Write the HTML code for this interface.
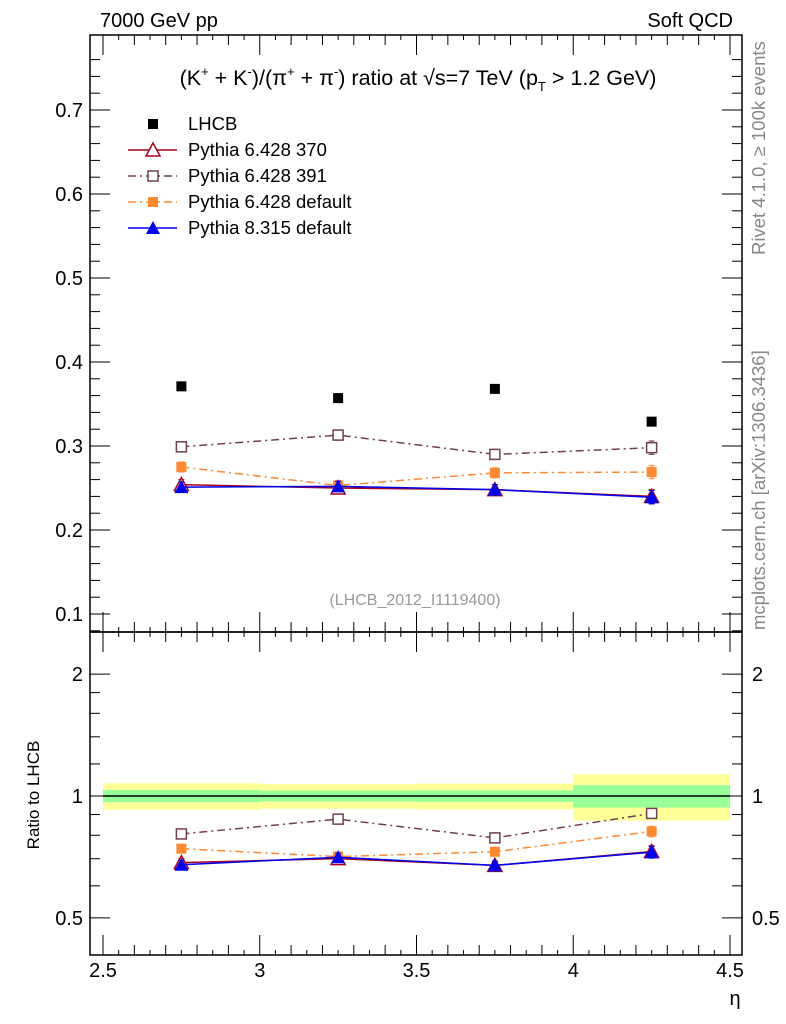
<!DOCTYPE html>
<html><head><meta charset="utf-8"><style>
body{margin:0;background:#fff;}
svg{display:block;font-family:"Liberation Sans",sans-serif;}
</style></head><body>
<svg id="c" width="786" height="1024" viewBox="0 0 786 1024" xmlns="http://www.w3.org/2000/svg">
<rect width="786" height="1024" fill="#fff"/>
<text x="100" y="27" font-size="20">7000 GeV pp</text>
<text x="733" y="27" font-size="20" text-anchor="end">Soft QCD</text>
<text x="418" y="85" font-size="21.5" text-anchor="middle">(K<tspan font-size="13" dy="-9">+</tspan><tspan dy="9"> + K</tspan><tspan font-size="13" dy="-9">-</tspan><tspan dy="9">)/(π</tspan><tspan font-size="13" dy="-9">+</tspan><tspan dy="9"> + π</tspan><tspan font-size="13" dy="-9">-</tspan><tspan dy="9">) ratio at √s=7 TeV (p</tspan><tspan font-size="13" dy="6">T</tspan><tspan dy="-6"> &gt; 1.2 GeV)</tspan></text>
<text transform="translate(765,630) rotate(-90)" font-size="18.5" fill="#888">mcplots.cern.ch [arXiv:1306.3436]</text>
<text transform="translate(765,255) rotate(-90)" font-size="18.5" fill="#888">Rivet 4.1.0, ≥ 100k events</text>
<text x="415" y="605" font-size="16" fill="#999" text-anchor="middle">(LHCB_2012_I1119400)</text>
<text transform="translate(39,795) rotate(-90)" font-size="17" text-anchor="middle">Ratio to LHCB</text>
<text x="735" y="1005" font-size="20" text-anchor="middle">η</text>
<g id="bands"></g>
<g id="axes"></g>
<g id="marks"></g>
<g id="legend"></g>
</svg>
<script>
const etaBins=[2.75,3.25,3.75,4.25];
const binEdges=[2.5,3.0,3.5,4.0,4.5];
const lhcb=[0.371,0.357,0.368,0.329];
const lhcbStat=[0.013,0.011,0.012,0.021];
const lhcbTot=[0.028,0.025,0.027,0.043];
const p370=[0.254,0.250,0.248,0.240];
const p391=[0.299,0.313,0.290,0.298];
const p6def=[0.275,0.253,0.268,0.269];
const p8def=[0.251,0.252,0.248,0.239];
const mcErr=[0.006,0.006,0.006,0.008];
const mainTicks=[0.1,0.2,0.3,0.4,0.5,0.6,0.7];
const ratioTicks=[0.5,1,2];
const xTicks=[2.5,3,3.5,4,4.5];
const xTickLabels=["2.5","3","3.5","4","4.5"];

const NS="http://www.w3.org/2000/svg";
const L=90,R=742,T=35,MB=632,RB=955;
const X=v=>103+(v-2.5)*313.5;
const Y=v=>110+(0.7-v)*840;
const YR=r=>796-405*Math.log10(r);
function mk(g,tag,at){const e=document.createElementNS(NS,tag);for(const k in at)e.setAttribute(k,at[k]);document.getElementById(g).appendChild(e);return e;}

for(let i=0;i<4;i++){
  const x0=X(binEdges[i]),x1=X(binEdges[i+1]);
  let e=mk('bands','rect',{x:x0,y:YR(1+lhcbTot[i]/lhcb[i]),width:x1-x0,height:YR(1-lhcbTot[i]/lhcb[i])-YR(1+lhcbTot[i]/lhcb[i]),fill:'#ffff99'});
  
  
  e=mk('bands','rect',{x:x0,y:YR(1+lhcbStat[i]/lhcb[i]),width:x1-x0,height:YR(1-lhcbStat[i]/lhcb[i])-YR(1+lhcbStat[i]/lhcb[i]),fill:'#99ff99'});
  
  
}
let e=mk('bands','line',{x1:X(2.5),x2:X(4.5),y1:YR(1),y2:YR(1),stroke:'#000','stroke-width':1.5});



e=mk('axes','rect',{x:L,y:T,width:R-L,height:MB-T,fill:'none',stroke:'#000','stroke-width':1.5});


e=mk('axes','rect',{x:L,y:MB,width:R-L,height:RB-MB,fill:'none',stroke:'#000','stroke-width':1.5});


for(let v=0.08;v<=0.78;v+=0.02){
  const y=Y(v);if(y<T||y>MB)continue;
  const maj=Math.abs(v*10-Math.round(v*10))<1e-6;
  const len=maj?20:10;
  mk('axes','line',{x1:L,x2:L+len,y1:y,y2:y,stroke:'#000'});
  mk('axes','line',{x1:R,x2:R-len,y1:y,y2:y,stroke:'#000'});
}
mainTicks.forEach(v=>{const t=mk('axes','text',{x:83,y:Y(v)+7,'font-size':20,'text-anchor':'end'});t.textContent=v.toFixed(1);

});
[0.4,0.5,0.6,0.7,0.8,0.9,1,2].forEach(v=>{const y=YR(v);if(y<MB||y>RB)return;const maj=ratioTicks.includes(v);const len=maj?20:10;
mk('axes','line',{x1:L,x2:L+len,y1:y,y2:y,stroke:'#000'});mk('axes','line',{x1:R,x2:R-len,y1:y,y2:y,stroke:'#000'});});
[1.2,1.4,1.6,1.8].forEach(v=>{const y=YR(v);mk('axes','line',{x1:L,x2:L+10,y1:y,y2:y,stroke:'#000'});mk('axes','line',{x1:R,x2:R-10,y1:y,y2:y,stroke:'#000'});});
ratioTicks.forEach(v=>{[83,752].forEach((x,j)=>{const t=mk('axes','text',{x:x,y:YR(v)+7,'font-size':20,'text-anchor':j?'start':'end'});t.textContent=String(v);

});});
for(let v=2.45;v<=4.56;v+=0.05){const x=X(v);if(x<L||x>R)continue;const maj=Math.abs(v*2-Math.round(v*2))<1e-6;const maj2=Math.abs(v*10-Math.round(v*10))<1e-6;const len=maj?20:(maj2?10:5);
[[MB,-1],[T,1],[RB,-1],[MB,1]].forEach(([y0,d])=>mk('axes','line',{x1:x,x2:x,y1:y0,y2:y0+d*len,stroke:'#000'}));}
xTicks.forEach((v,i)=>{const t=mk('axes','text',{x:X(v),y:977,'font-size':20,'text-anchor':'middle'});t.textContent=xTickLabels[i];

});

function marker(g,type,x,y,col){
  if(type==='fsq')return mk(g,'rect',{x:x-5,y:y-5,width:10,height:10,fill:col});
  if(type==='osq')return mk(g,'rect',{x:x-5,y:y-5,width:10,height:10,fill:'#fff',stroke:col,'stroke-width':1.5});
  if(type==='otri')return mk(g,'polygon',{points:`${x},${y-7} ${x-7},${y+6} ${x+7},${y+6}`,fill:'#fff',stroke:col,'stroke-width':1.5});
  if(type==='ftri')return mk(g,'polygon',{points:`${x},${y-7} ${x-7},${y+6} ${x+7},${y+6}`,fill:col});
}
const series=[
 {name:'Pythia 6.428 370',vals:p370,col:'#a50021',dash:'',m:'otri',dn:'series-pythia6-370'},
 {name:'Pythia 6.428 391',vals:p391,col:'#704050',dash:'8,4,2,4',m:'osq',dn:'series-pythia6-391'},
 {name:'Pythia 6.428 default',vals:p6def,col:'#ff8833',dash:'8,4,2,4',m:'fsq',dn:'series-pythia6-default'},
 {name:'Pythia 8.315 default',vals:p8def,col:'#0000ee',dash:'',m:'ftri',dn:'series-pythia8-default'}
];
series.forEach(s=>{
  [0,1].forEach(k=>{
    const pts=s.vals.map((v,i)=>[X(etaBins[i]),k?YR(v/lhcb[i]):Y(v)]);
    const p=mk('marks','polyline',{points:pts.map(q=>q.join(',')).join(' '),fill:'none',stroke:s.col,'stroke-width':1.5,'stroke-dasharray':s.dash});
    
    
    s.vals.forEach((v,i)=>{
      const x=X(etaBins[i]);
      const y0=k?YR((v+mcErr[i])/lhcb[i]):Y(v+mcErr[i]),y1=k?YR((v-mcErr[i])/lhcb[i]):Y(v-mcErr[i]);
      mk('marks','line',{x1:x,x2:x,y1:y0,y2:y1,stroke:s.col,'stroke-width':1.5});
      mk('marks','line',{x1:x-3,x2:x+3,y1:y0,y2:y0,stroke:s.col,'stroke-width':1});
      mk('marks','line',{x1:x-3,x2:x+3,y1:y1,y2:y1,stroke:s.col,'stroke-width':1});
      const m=marker('marks',s.m,x,pts[i][1],s.col);
      
      
    });
  });
});
lhcb.forEach((v,i)=>{const m=marker('marks','fsq',X(etaBins[i]),Y(v),'#000');

});

const legY=[124,150,176,202,228];
let t=mk('legend','text',{x:188,y:legY[0]+6,'font-size':18.5});t.textContent='LHCB';


marker('legend','fsq',153,legY[0],'#000');
series.forEach((s,i)=>{const y=legY[i+1];
  mk('legend','line',{x1:128,x2:177,y1:y,y2:y,stroke:s.col,'stroke-width':1.5,'stroke-dasharray':s.dash});
  marker('legend',s.m,153,y,s.col);
  const tt=mk('legend','text',{x:188,y:y+6,'font-size':18.5});tt.textContent=s.name;
  
  
});
</script>
</body></html>
